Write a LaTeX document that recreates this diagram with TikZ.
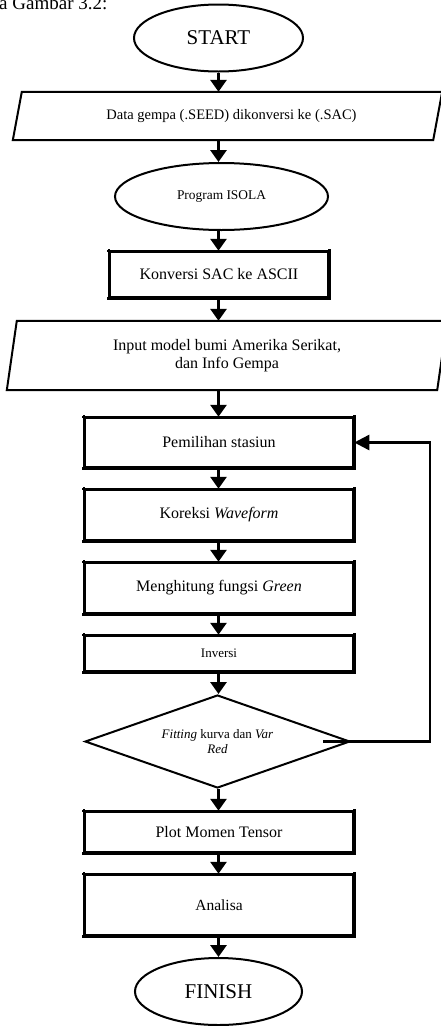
\documentclass[tikz,border=0pt]{standalone}
\usepackage{fontspec}
\setmainfont{Liberation Serif}
\usetikzlibrary{arrows.meta,shapes.geometric,calc}
\tikzset{
  fsz/.style 2 args={font=\fontsize{#1}{#2}\selectfont},
  proc/.style={draw, line width=2.5pt, rectangle, inner sep=0pt, minimum width=268pt},
  term/.style={draw, line width=2pt, ellipse, inner sep=0pt},
  iobox/.style={rectangle, inner sep=0pt, align=center},
  iopath/.style={draw, line width=2pt, line join=miter},
  decis/.style={draw, line width=2pt, diamond, aspect=2.85, inner sep=0pt, align=center},
  arr/.style={line width=3pt, -{Triangle[length=12pt,width=16pt]}},
  fbarr/.style={line width=2.5pt, -{Triangle[length=15pt,width=15pt]}},
  tick/.style={line width=2.5pt, shorten <=-1.5pt, shorten >=-1.5pt}
}
\begin{document}
\begin{tikzpicture}[x=1pt,y=-1pt]
\useasboundingbox (0,0) rectangle (441,1026);
\clip (0,0) rectangle (441,1026);
\fill[white] (0,0) rectangle (441,1026);

\node[anchor=base west, inner sep=0pt, fsz={19}{22}] (cap) at (-1,9) {a Gambar 3.2:};

\coordinate (col) at (218.5,0);

\node[term, minimum width=169pt, minimum height=67pt, fsz={21}{24}] (start) at (218.5,38) {START};

\node[iobox, minimum width=429pt, minimum height=48pt, fsz={14.5}{17}] (data) at (227.5,116) {\hspace*{8pt}Data gempa (.SEED) dikonversi ke (.SAC)};
\draw[iopath] ([xshift=9pt]data.north west) -- (data.north east) -- ([xshift=-9pt]data.south east) -- (data.south west) -- cycle;

\node[term, minimum width=213pt, minimum height=67pt, fsz={13.4}{15.5}] (isola) at (221.5,196.5) {Program ISOLA};

\node[proc, minimum width=218pt, minimum height=45pt, fsz={16}{18.4}] (konv) at (219,274.5) {Konversi SAC ke ASCII};

\node[iobox, minimum width=440pt, minimum height=69pt, fsz={16}{17.5}] (input) at (227,355.5) {Input model bumi Amerika Serikat,\\dan Info Gempa};
\draw[iopath] ([xshift=10pt]input.north west) -- (input.north east) -- ([xshift=-10pt]input.south east) -- (input.south west) -- cycle;

\node[proc, minimum height=49pt, fsz={16}{18.4}] (pem) at (219,442.5) {Pemilihan stasiun};
\node[proc, minimum height=50pt, fsz={16}{18.4}] (kor) at (219,515) {Koreksi \textit{Waveform}};
\node[proc, minimum height=50pt, fsz={16}{18.4}] (green) at (219,588) {Menghitung fungsi \textit{Green}};
\node[proc, minimum height=35pt, fsz={13}{15}] (inv) at (219,653.5) {Inversi};

\node[decis, minimum width=265pt, minimum height=93pt, fsz={13}{15}] (fit) at (217.5,741.5) {\textit{Fitting} kurva dan \textit{Var}\\\textit{Red}};

\node[proc, minimum height=40pt, fsz={16}{18.4}] (plot) at (219,832) {Plot Momen Tensor};
\node[proc, minimum height=60pt, fsz={15.5}{18}] (ana) at (219,905) {Analisa};

\node[term, minimum width=167pt, minimum height=67pt, fsz={21}{24}] (fin) at (218.5,991.5) {FINISH};

% corner overshoot ticks of the process boxes
\foreach \n in {konv,pem,kor,green,inv,plot,ana}{
  \draw[tick] (\n.north west) -- (\n.north east);
  \draw[tick] (\n.south west) -- (\n.south east);
  \draw[tick] (\n.north west) -- (\n.south west);
  \draw[tick] (\n.north east) -- (\n.south east);
}

% connectors
\draw[arr] (col |- start.south) -- (col |- data.north);
\draw[arr] (col |- data.south) -- (col |- isola.north);
\draw[arr] (col |- isola.south) -- (col |- konv.north);
\draw[arr] (col |- konv.south) -- (col |- input.north);
\draw[arr] (col |- input.south) -- (col |- pem.north);
\draw[arr] (col |- pem.south) -- (col |- kor.north);
\draw[arr] (col |- kor.south) -- (col |- green.north);
\draw[arr] (col |- green.south) -- (col |- inv.north);
\draw[arr] (col |- inv.south) -- (col |- fit.north);
\draw[arr] (col |- fit.south) -- (col |- plot.north);
\draw[arr] (col |- plot.south) -- (col |- ana.north);
\draw[arr] (col |- ana.south) -- (col |- fin.north);

% feedback loop
\coordinate (fbs) at ($(fit.east)+(-28pt,0)$);
\coordinate (fbc) at (430,442.5);
\draw[fbarr] (fbs) -| (fbc) -- (pem.east);
\end{tikzpicture}
\end{document}
